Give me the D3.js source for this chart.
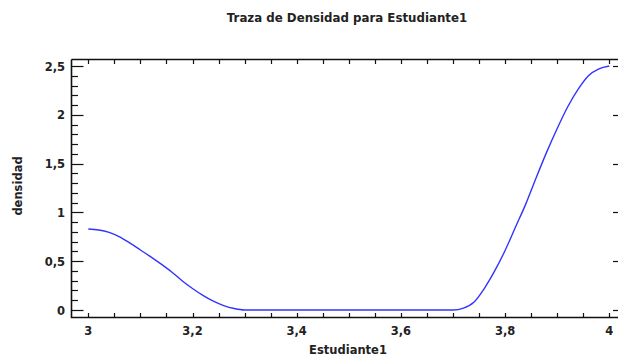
<!DOCTYPE html>
<html><head><meta charset="utf-8">
<script src="https://cdn.jsdelivr.net/npm/d3@7"></script>
<style>
body{margin:0;background:#fff;}
text{font-family:"DejaVu Sans",Verdana,sans-serif;font-weight:bold;fill:#222;}
</style></head>
<body><svg id="c" width="618" height="358"></svg>
<script>
const xVals = [3.00,3.02,3.04,3.06,3.08,3.10,3.12,3.14,3.16,3.18,3.20,3.22,3.24,3.26,3.28,3.30,3.40,3.50,3.60,3.70,3.72,3.74,3.76,3.78,3.80,3.82,3.84,3.86,3.88,3.90,3.92,3.94,3.96,3.98,4.00];
const density = [0.83,0.82,0.795,0.75,0.685,0.615,0.545,0.47,0.39,0.30,0.22,0.15,0.09,0.045,0.015,0.0,0.0,0.0,0.0,0.0,0.02,0.08,0.22,0.40,0.61,0.85,1.09,1.36,1.62,1.86,2.08,2.26,2.40,2.47,2.50];
const xTicks = [3.0,3.2,3.4,3.6,3.8,4.0];
const yTicks = [0,0.5,1,1.5,2,2.5];
const title = "Traza de Densidad para Estudiante1";
const xLabel = "Estudiante1";
const yLabel = "densidad";

const svg = d3.select("#c");
const x = d3.scaleLinear().domain([3,4]).range([88.3,609.3]);
const y = d3.scaleLinear().domain([0,2.5]).range([310,66]);
const L=71.5, R=618, T=59.5, B=317.5;
const fmt = d => String(+d.toFixed(1)).replace(".",",");

svg.append("text").attr("x",347).attr("y",22).attr("text-anchor","middle").attr("font-size",11.8).text(title);

svg.append("path").attr("d",`M${L},${T}H${R}M${L},${T}V${B}H${R}`).attr("stroke","#111").attr("stroke-width",1.6).attr("fill","none");

const xt = d3.range(0,21).map(i=>3+i*0.05);
svg.selectAll(".xtb").data(xt).join("line").attr("x1",d=>Math.round(x(d))+0.5).attr("x2",d=>Math.round(x(d))+0.5)
  .attr("y1",B).attr("y2",B-4.5).attr("stroke","#111").attr("stroke-width",1.2);
svg.selectAll(".xtt").data(xt).join("line").attr("x1",d=>Math.round(x(d))+0.5).attr("x2",d=>Math.round(x(d))+0.5)
  .attr("y1",T).attr("y2",T+4.5).attr("stroke","#111").attr("stroke-width",1.2);
const yt = d3.range(0,26).map(i=>i*0.1);
svg.selectAll(".ytl").data(yt).join("line").attr("y1",d=>Math.round(y(d))+0.5).attr("y2",d=>Math.round(y(d))+0.5)
  .attr("x1",L).attr("x2",(d,i)=>i%5===0?L+12:L+6.5).attr("stroke","#111").attr("stroke-width",1.2);
svg.selectAll(".ytr").data(yTicks).join("line").attr("y1",d=>Math.round(y(d))+0.5).attr("y2",d=>Math.round(y(d))+0.5)
  .attr("x1",R).attr("x2",R-5).attr("stroke","#111").attr("stroke-width",1.2);

svg.selectAll(".xl").data(xTicks).join("text").attr("x",d=>x(d)).attr("y",335).attr("text-anchor","middle").attr("font-size",11.5).text(fmt);
svg.selectAll(".yl").data(yTicks).join("text").attr("x",65).attr("y",d=>y(d)+4.5).attr("text-anchor","end").attr("font-size",11.5).text(fmt);
svg.append("text").attr("x",348).attr("y",354).attr("text-anchor","middle").attr("font-size",11.5).text(xLabel);
svg.append("text").attr("transform","translate(22,186) rotate(-90)").attr("text-anchor","middle").attr("font-size",11.5).text(yLabel);

const pts = xVals.map((v,i)=>[v,density[i]]);
svg.append("path").datum(pts).attr("fill","none").attr("stroke","#3333ff").attr("stroke-width",1.4)
  .attr("d",d3.line().x(d=>x(d[0])).y(d=>y(d[1])).curve(d3.curveMonotoneX));
</script></body></html>
